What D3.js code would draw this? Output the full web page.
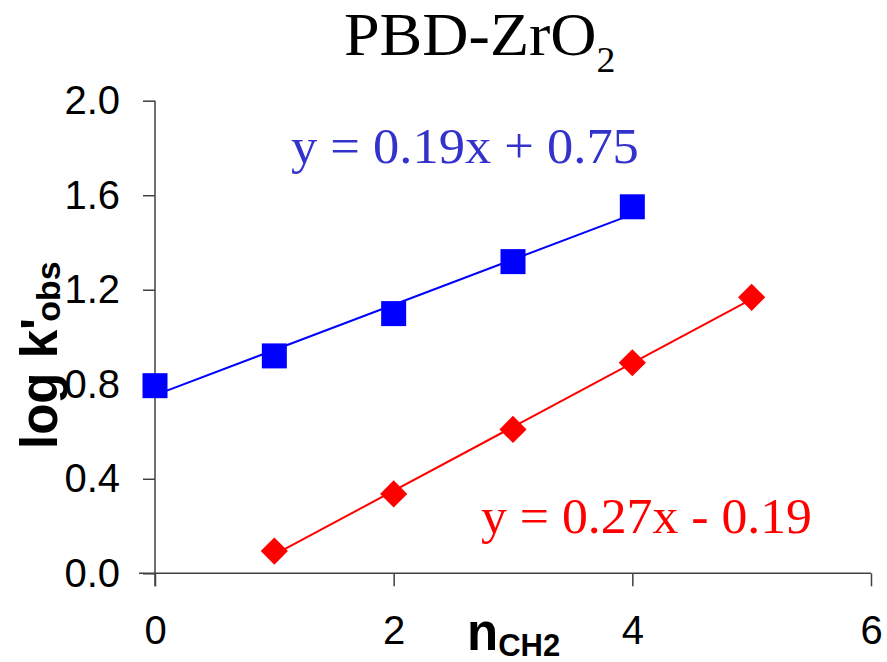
<!doctype html>
<html lang="en">
<head>
<meta charset="utf-8">
<style>
html, body {
    margin: 0;
    padding: 0;
    background: #fff;
    overflow: hidden;
}
svg {
    display: block;
}
.axis path, .axis line {
    stroke: #404040;
    stroke-width: 1.5;
}
.axis text {
    font-family: "Liberation Sans", Arial, sans-serif;
    font-size: 40px;
    fill: #000;
}
</style>
</head>
<body>
<svg id="chart" width="887" height="662"></svg>
<script src="https://cdn.jsdelivr.net/npm/d3@7"></script>
<script>
// data
const blueX = [0, 1, 2, 3, 4];
const blueY = [0.794, 0.92, 1.099, 1.319, 1.551];
const redX = [1, 2, 3, 4, 5];
const redY = [0.094, 0.336, 0.609, 0.891, 1.168];
const xTicks = [0, 2, 4, 6];
const yTicks = [0, 0.4, 0.8, 1.2, 1.6, 2.0];

const svg = d3.select('#chart');

const x = d3.scaleLinear().domain([0, 6]).range([155, 871]);
const y = d3.scaleLinear().domain([0, 2]).range([573.3, 100.7]);

// least squares trendline, same as the spreadsheet did
function fit(xs, ys) {
    const mx = d3.mean(xs), my = d3.mean(ys);
    let sxy = 0, sxx = 0;
    xs.forEach((v, i) => { sxy += (v - mx) * (ys[i] - my); sxx += (v - mx) ** 2; });
    const m = sxy / sxx;
    return {m: m, b: my - m * mx};
}

const xAxis = d3.axisBottom(x).tickValues(xTicks).tickSize(13).tickPadding(29).tickFormat(d3.format('d'));
const yAxis = d3.axisLeft(y).tickValues(yTicks).tickSize(12).tickPadding(23).tickFormat(d3.format('.1f'));

svg.append('g').attr('class', 'axis')
    .attr('transform', `translate(0,${y(0)})`)
    .call(xAxis)
    .call(g => g.select('.domain').attr('d', `M${x(0) - 16},0H${x(6)}`));
svg.append('g').attr('class', 'axis')
    .attr('transform', `translate(${x(0)},0)`)
    .call(yAxis)
    .call(g => g.select('.domain').attr('d', `M0,${y(2)}V${y(0) + 13}`));

const series = [
    {xs: blueX, ys: blueY, color: '#0000ff', shape: 'square'},
    {xs: redX, ys: redY, color: '#ff0000', shape: 'diamond'}
];

series.forEach(s => {
    const f = fit(s.xs, s.ys);
    const x0 = d3.min(s.xs), x1 = d3.max(s.xs);
    svg.append('line')
        .attr('x1', x(x0)).attr('y1', y(f.m * x0 + f.b))
        .attr('x2', x(x1)).attr('y2', y(f.m * x1 + f.b))
        .attr('stroke', s.color)
        .attr('stroke-width', 2);
});

series.forEach(s => {
    const sym = d3.symbol(d3.symbolSquare, s.shape === 'square' ? 625 : 370);
    svg.append('g').selectAll('path')
        .data(s.xs.map((v, i) => [v, s.ys[i]]))
        .join('path')
        .attr('d', sym)
        .attr('transform', d => `translate(${x(d[0])},${y(d[1])})` + (s.shape === 'diamond' ? ' rotate(45)' : ''))
        .attr('fill', s.color);
});

const serif = '"Liberation Serif", "Times New Roman", serif';

// title (the original text is a bit wider than the font, so stretch it)
const title = svg.append('text')
    .attr('transform', 'translate(344,55) scale(1.05,1)')
    .attr('font-family', serif)
    .attr('font-size', 61)
    .attr('fill', '#000');
title.append('tspan').text('PBD-ZrO');
title.append('tspan').attr('font-size', 36).attr('dy', 17).text('2');

// trendline equations
svg.append('text')
    .attr('transform', 'translate(291,163) scale(1.05,1)')
    .attr('font-family', serif)
    .attr('font-size', 50)
    .attr('fill', '#3333cc')
    .text('y = 0.19x + 0.75');
svg.append('text')
    .attr('transform', 'translate(481,533) scale(1.035,1)')
    .attr('font-family', serif)
    .attr('font-size', 50)
    .attr('fill', '#ff0000')
    .text('y = 0.27x - 0.19');

// axis titles
const yt = svg.append('text')
    .attr('transform', 'translate(57,449) rotate(-90)')
    .attr('font-family', '"Liberation Sans", Arial, sans-serif')
    .attr('font-weight', 'bold')
    .attr('font-size', 51)
    .attr('fill', '#000');
yt.append('tspan').text("log k'");
yt.append('tspan').attr('font-size', 34).attr('dx', -4).attr('dy', 3).text('obs');

const xt = svg.append('text')
    .attr('x', 467).attr('y', 650)
    .attr('font-family', '"Liberation Sans", Arial, sans-serif')
    .attr('font-weight', 'bold')
    .attr('font-size', 51)
    .attr('fill', '#000');
xt.append('tspan').text('n');
xt.append('tspan').attr('font-size', 31).attr('dy', 6).text('CH2');
</script>
</body>
</html>
